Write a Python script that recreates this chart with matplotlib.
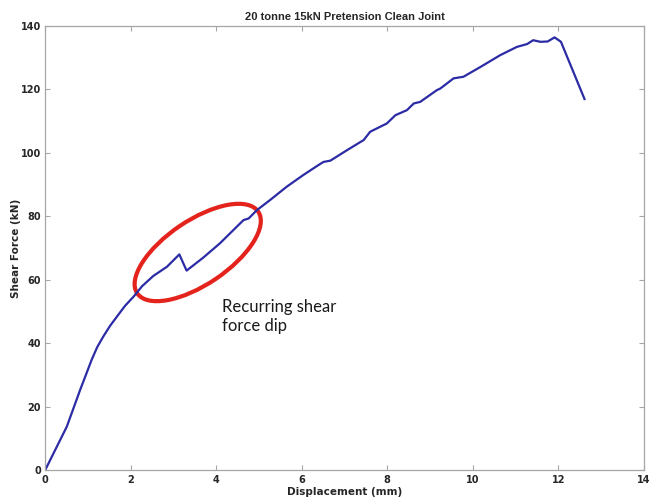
import matplotlib
matplotlib.use('Agg')
import matplotlib.pyplot as plt
from matplotlib.patches import Ellipse
from matplotlib.transforms import ScaledTranslation


# load-displacement record, clean joint, 15 kN pretension
DISP = [0.00, 0.51, 0.82, 1.09, 1.22, 1.36, 1.52, 1.68, 1.87, 2.07, 2.27,
        2.53, 2.85, 3.14, 3.31, 3.70, 4.09, 4.64, 4.76, 4.95, 5.26, 5.65,
        6.04, 6.39, 6.51, 6.67, 7.06, 7.45, 7.60, 7.99, 8.19, 8.46, 8.62,
        8.77, 9.16, 9.24, 9.55, 9.78, 10.18, 10.64, 11.03, 11.27, 11.41,
        11.58, 11.75, 11.91, 12.06, 12.61]
FORCE = [0.0, 13.8, 25.3, 34.8, 38.8, 42.1, 45.5, 48.4, 51.8, 54.7, 58.0,
         61.2, 64.1, 68.0, 62.9, 67.0, 71.5, 78.8, 79.3, 81.9, 85.1, 89.3,
         93.0, 96.1, 97.1, 97.5, 100.8, 104.0, 106.6, 109.2, 111.8, 113.4,
         115.5, 116.0, 119.7, 120.2, 123.4, 123.9, 127.0, 130.7, 133.3,
         134.2, 135.4, 134.9, 135.0, 136.3, 134.9, 116.9]

X_TICKS = [0, 2, 4, 6, 8, 10, 12, 14]
Y_TICKS = [0, 20, 40, 60, 80, 100, 120, 140]

# where the dip is circled, and the note beside it
DIP_CENTRE = (3.57, 68.6)
NOTE_LINES = ['Recurring shear', 'force dip']

AX_GREY = '#a6a6a6'
TXT = '#262626'

fig = plt.figure(figsize=(6.51, 5.01), dpi=100)
ax = fig.add_axes([0.0691, 0.0609, 0.9201, 0.888])

ax.plot(DISP, FORCE, color='#2b2ba6', linewidth=1.6)

ax.set_xlim(0, 14)
ax.set_ylim(0, 140)
ax.set_xticks(X_TICKS)
ax.set_yticks(Y_TICKS)
ax.tick_params(direction='in', length=3.5, width=0.8, color=AX_GREY,
               labelsize=7, labelcolor=TXT, top=True, right=True, pad=3)
for lab in ax.get_xticklabels() + ax.get_yticklabels():
    lab.set_fontweight('bold')
for sp in ax.spines.values():
    sp.set_color(AX_GREY)
    sp.set_linewidth(0.9)

ax.set_xlabel('Displacement (mm)', fontsize=7.5, fontweight='bold',
              color=TXT, labelpad=2)
ax.set_ylabel('Shear Force (kN)', fontsize=7.5, fontweight='bold',
              color=TXT, labelpad=0)
ax.set_title('20 tonne 15kN Pretension Clean Joint', fontsize=8.0,
             fontweight='bold', color=TXT, pad=4, family='Liberation Sans')

# ellipse sized in inches so its tilt is independent of the axis scaling
circ_tr = fig.dpi_scale_trans + ScaledTranslation(*DIP_CENTRE, ax.transData)
ax.add_patch(Ellipse((0, 0), width=1.46, height=0.64, angle=34,
                     transform=circ_tr, fill=False, edgecolor='#e3231c',
                     linewidth=3.0, clip_on=False))

ax.text(4.13, 49.95, NOTE_LINES[0], fontsize=12, family='Lato',
        color='#1a1a1a', va='baseline')
ax.text(4.13, 44.0, NOTE_LINES[1], fontsize=12, family='Lato',
        color='#1a1a1a', va='baseline')

fig.savefig('out.png', dpi=100, facecolor='white')
